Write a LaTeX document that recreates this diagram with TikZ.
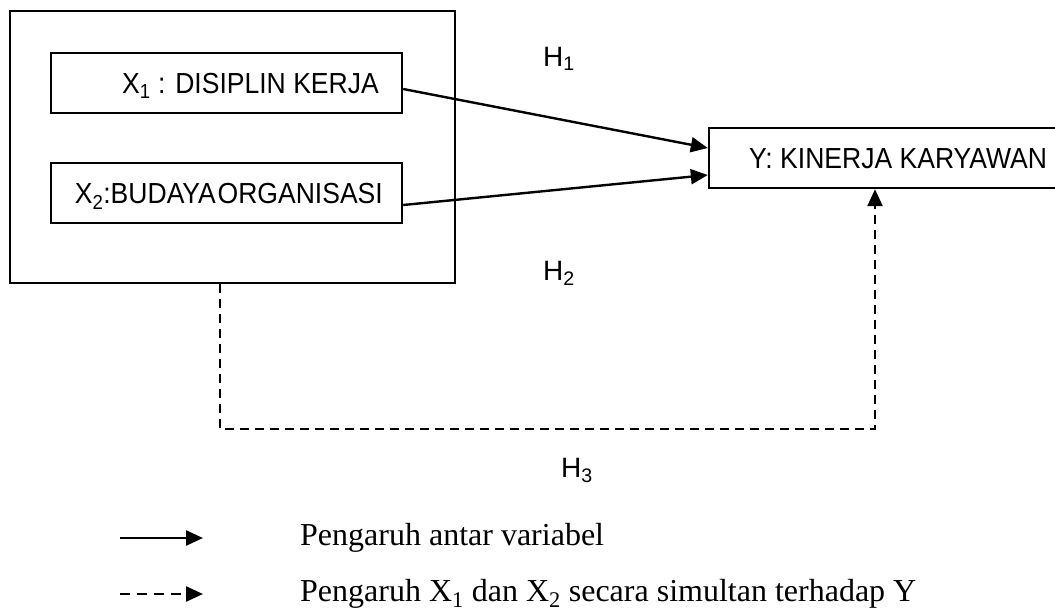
\documentclass[tikz,border=0pt]{standalone}
\usepackage{fontspec}
\setmainfont{Liberation Serif}
\newfontfamily\arialf[FakeStretch=0.915]{Liberation Sans}
\newfontfamily\arialh{Liberation Sans}
\usetikzlibrary{arrows.meta}
\tikzset{
  box/.style={draw, line width=2.4pt, rectangle, inner sep=0pt},
  boxtext/.style={inner sep=0pt, font=\arialf\fontsize{29}{34}\selectfont},
  arr/.style={line width=2.4pt, -{Triangle[length=17pt,width=15pt]}},
  darr/.style={line width=2.4pt, dash pattern=on 9pt off 6pt, -{Triangle[length=17pt,width=15pt]}},
  ldarr/.style={line width=2.4pt, dash pattern=on 10pt off 7pt, -{Triangle[length=17pt,width=15pt]}},
  hlab/.style={anchor=base west, inner sep=0pt, font=\arialh\fontsize{28}{33}\selectfont},
  legtext/.style={anchor=base west, inner sep=0pt, font=\fontsize{32}{38}\selectfont}
}
\begin{document}
\begin{tikzpicture}[x=1pt,y=-1pt]
\useasboundingbox (0,0) rectangle (1055,611);
\clip (0,0) rectangle (1055,611);
% outer box
\node[box, minimum width=445pt, minimum height=272pt] (outer) at (232.5,147) {};
% inner boxes
\node[box, minimum width=351pt, minimum height=60pt] (x1) at (226.5,83) {};
\node[box, minimum width=351pt, minimum height=60pt] (x2) at (226.5,193) {};
\node[boxtext, anchor=base east] (x1t) at (379,93.5) {X\textsubscript{1} : DISIPLIN KERJA};
\node[boxtext, anchor=base east] (x2t) at (383,203.5) {X\textsubscript{2}:BUDAYA\hspace{0.06em}ORGANISASI};
% Y box (extends beyond the right edge)
\node[box, minimum width=391pt, minimum height=60pt] (y) at (904.5,158) {};
\node[boxtext, anchor=base west] (yt) at (749,168) {Y: KINERJA KARYAWAN};
% solid arrows
\draw[arr] ([yshift=-6pt]x1.east) -- ([yshift=10pt]y.west);
\draw[arr] ([yshift=-12pt]x2.east) -- ([yshift=-17pt]y.west);
% dashed connector
\coordinate (low) at (0,429);
\coordinate (ds) at ([xshift=-12.5pt]outer.south);
\coordinate (de) at ([xshift=-29.5pt]y.south);
\draw[darr] (ds) -- (ds |- low) -| (de);
% labels
\node[hlab] (h1) at (543,66) {H\textsubscript{1}};
\node[hlab] (h2) at (543,280) {H\textsubscript{2}};
\node[hlab] (h3) at (561,477) {H\textsubscript{3}};
% legend
\coordinate (l1a) at (120,538);
\coordinate (l1b) at (203,538);
\coordinate (l2a) at (120,594);
\coordinate (l2b) at (203,594);
\draw[arr] (l1a) -- (l1b);
\draw[ldarr] (l2a) -- (l2b);
\node[legtext] (t1) at (300,545) {Pengaruh antar variabel};
\node[legtext] (t2) at (300,601) {Pengaruh X\textsubscript{1} dan X\textsubscript{2} secara simultan terhadap Y};
\end{tikzpicture}
\end{document}
